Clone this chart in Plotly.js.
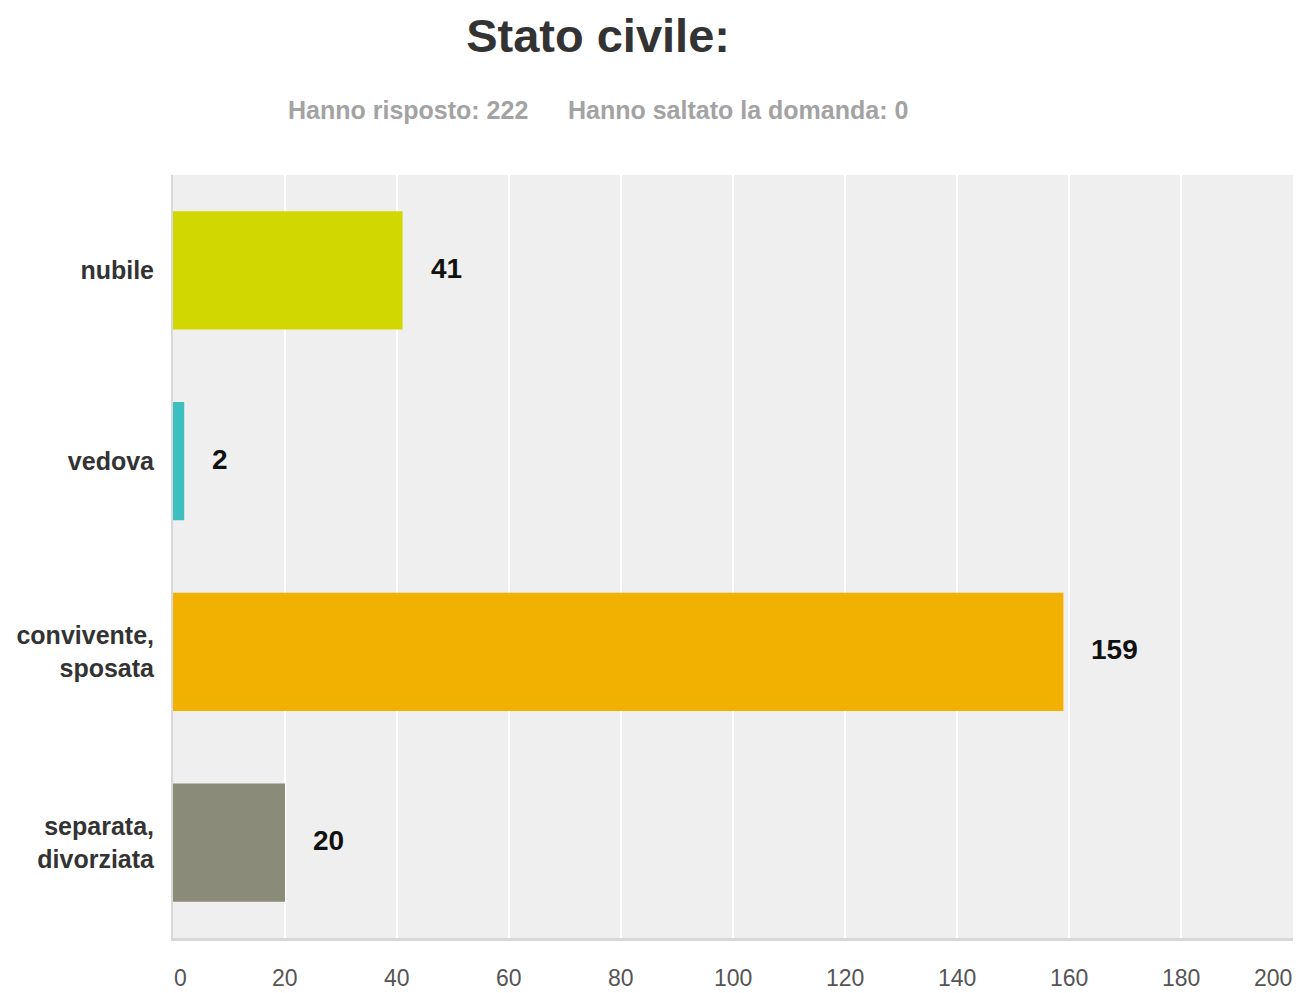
<!DOCTYPE html>
<html><head><meta charset="utf-8">
<script src="https://cdn.plot.ly/plotly-3.0.1.min.js"></script>
<style>body{margin:0;background:#fff}#c{width:1299px;height:993px}</style>
</head><body><div id="c"></div>
<script>
const categories = ["nubile", "vedova", "convivente,<br>sposata", "separata,<br>divorziata"];
const values = [41, 2, 159, 20];
const colors = ["#d1d700", "#3dbfc0", "#f2b100", "#8a8b78"];
const xTicks = [0, 20, 40, 60, 80, 100, 120, 140, 160, 180, 200];
const subtitleParts = ["Hanno risposto: 222", "Hanno saltato la domanda: 0"];

const FONT = 'Liberation Sans, Arial, sans-serif';
const valueAnns = categories.map((c, i) => ({
  x: values[i], y: c, xref: 'x', yref: 'y', text: '<b>' + values[i] + '</b>',
  showarrow: false, xanchor: 'left', xshift: 26, yshift: 2,
  font: {family: FONT, size: 28, color: '#111'}
}));
const tickAnns = xTicks.map((t, i) => ({
  x: t, y: 0, xref: 'x', yref: 'paper', text: String(t), showarrow: false,
  xanchor: i === 0 ? 'left' : (i === xTicks.length - 1 ? 'right' : 'center'),
  yanchor: 'middle', yshift: -40, borderpad: 0,
  font: {family: FONT, size: 23, color: '#555'}
}));

const data = [{
  type: 'bar', orientation: 'h', x: values, y: categories,
  marker: {color: colors, line: {width: 0}}, hoverinfo: 'none'
}];
const layout = {
  width: 1299, height: 993,
  margin: {l: 173, r: 6, t: 175, b: 55},
  paper_bgcolor: '#fff', plot_bgcolor: '#efefef',
  showlegend: false, bargap: 0.38,
  title: {text: '<b>Stato civile:</b>', x: 0.4604, xanchor: 'center', y: 0.964, yanchor: 'middle',
    xref: 'container', yref: 'container',
    font: {family: FONT, size: 47, color: '#333'}},
  xaxis: {range: [0, 200], tickvals: xTicks, showticklabels: false, showgrid: true,
    gridcolor: '#ffffff', gridwidth: 2, zeroline: false, showline: true,
    linecolor: '#d8d8d8', linewidth: 3, fixedrange: true},
  yaxis: {autorange: 'reversed', type: 'category', showgrid: false, zeroline: false,
    showline: true, linecolor: '#d8d8d8', linewidth: 2, ticks: '', ticklabelstandoff: 12,
    tickfont: {family: FONT, size: 25, color: '#333', weight: 'bold'},
    fixedrange: true},
  annotations: [
    {text: '<b>' + subtitleParts[0] + '</b>', xref: 'paper', yref: 'paper',
     x: 0.2098, y: 1.085, xanchor: 'center', yanchor: 'middle', showarrow: false,
     font: {family: FONT, size: 25, color: '#a3a3a3'}},
    {text: '<b>' + subtitleParts[1] + '</b>', xref: 'paper', yref: 'paper',
     x: 0.5045, y: 1.085, xanchor: 'center', yanchor: 'middle', showarrow: false,
     font: {family: FONT, size: 25, color: '#a3a3a3'}},
    ...valueAnns, ...tickAnns
  ]
};
Plotly.newPlot('c', data, layout, {displayModeBar: false, staticPlot: true});
</script></body></html>
